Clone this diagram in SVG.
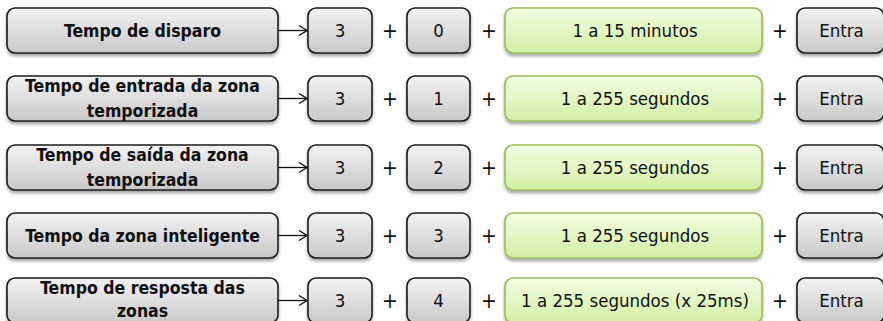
<svg xmlns="http://www.w3.org/2000/svg" width="883" height="321" viewBox="0 0 883 321">
<defs>
<linearGradient id="gGray" x1="0" y1="0" x2="0" y2="1"><stop offset="0" stop-color="#f2f2f2"/><stop offset="1" stop-color="#c9c9c9"/></linearGradient>
<linearGradient id="gGreen" x1="0" y1="0" x2="0" y2="1"><stop offset="0" stop-color="#f4fde4"/><stop offset="1" stop-color="#d2efa3"/></linearGradient>
<filter id="sh" x="-10%" y="-20%" width="120%" height="160%"><feDropShadow dx="0" dy="2.5" stdDeviation="1.6" flood-color="#000" flood-opacity="0.35"/></filter>
<marker id="ah" viewBox="0 0 10 12" refX="9" refY="6" markerWidth="10" markerHeight="12" markerUnits="userSpaceOnUse" orient="auto"><path d="M1,1 L9,6 L1,11" fill="none" stroke="#111" stroke-width="1.3"/></marker>
</defs>
<style>
text{font-family:"DejaVu Sans Condensed","DejaVu Sans",sans-serif;font-stretch:condensed;fill:#111;text-anchor:middle}
.gray{fill:url(#gGray);stroke:#1c1c1c;stroke-width:1.6;filter:url(#sh)}
.green{fill:url(#gGreen);stroke:#9bbb59;stroke-width:1.6;filter:url(#sh)}
.lbl{font-size:17.5px;font-weight:bold}
.val{font-size:18.5px}
.plus{font-size:21px}
.conn{stroke:#111;stroke-width:1.3;fill:none;marker-end:url(#ah)}
</style>
<g id="connectors">
<line class="conn" x1="278" y1="30.5" x2="307" y2="30.5"/>
<line class="conn" x1="278" y1="98.5" x2="307" y2="98.5"/>
<line class="conn" x1="278" y1="167.5" x2="307" y2="167.5"/>
<line class="conn" x1="278" y1="235.5" x2="307" y2="235.5"/>
<line class="conn" x1="278" y1="300.5" x2="307" y2="300.5"/>
</g>
<g id="row1">
<g id="n1-label"><rect class="gray" x="7" y="8" width="271" height="45" rx="8"/><text class="lbl" x="142.5" y="37">Tempo de disparo</text></g>
<g id="n1-a"><rect class="gray" x="308" y="8" width="64" height="45" rx="8"/><text class="val" x="340" y="37">3</text></g>
<text class="plus" x="390" y="38">+</text>
<g id="n1-b"><rect class="gray" x="407" y="8" width="63" height="45" rx="8"/><text class="val" x="438.5" y="37">0</text></g>
<text class="plus" x="489" y="38">+</text>
<g id="n1-c"><rect class="green" x="505" y="8" width="257" height="45" rx="8"/><text class="val" x="635" y="37">1 a 15 minutos</text></g>
<text class="plus" x="780" y="38">+</text>
<g id="n1-d"><rect class="gray" x="797" y="8" width="87" height="45" rx="8"/><text class="val" x="841.5" y="37">Entra</text></g>
</g>
<g id="row2">
<g id="n2-label"><rect class="gray" x="7" y="76" width="271" height="45" rx="8"/><text class="lbl" x="142.5" y="92">Tempo de entrada da zona</text><text class="lbl" x="142.5" y="117">temporizada</text></g>
<g id="n2-a"><rect class="gray" x="308" y="76" width="64" height="45" rx="8"/><text class="val" x="340" y="105">3</text></g>
<text class="plus" x="390" y="106">+</text>
<g id="n2-b"><rect class="gray" x="407" y="76" width="63" height="45" rx="8"/><text class="val" x="438.5" y="105">1</text></g>
<text class="plus" x="489" y="106">+</text>
<g id="n2-c"><rect class="green" x="505" y="76" width="257" height="45" rx="8"/><text class="val" x="635" y="105">1 a 255 segundos</text></g>
<text class="plus" x="780" y="106">+</text>
<g id="n2-d"><rect class="gray" x="797" y="76" width="87" height="45" rx="8"/><text class="val" x="841.5" y="105">Entra</text></g>
</g>
<g id="row3">
<g id="n3-label"><rect class="gray" x="7" y="145" width="271" height="45" rx="8"/><text class="lbl" x="142.5" y="161">Tempo de saída da zona</text><text class="lbl" x="142.5" y="186">temporizada</text></g>
<g id="n3-a"><rect class="gray" x="308" y="145" width="64" height="45" rx="8"/><text class="val" x="340" y="174">3</text></g>
<text class="plus" x="390" y="175">+</text>
<g id="n3-b"><rect class="gray" x="407" y="145" width="63" height="45" rx="8"/><text class="val" x="438.5" y="174">2</text></g>
<text class="plus" x="489" y="175">+</text>
<g id="n3-c"><rect class="green" x="505" y="145" width="257" height="45" rx="8"/><text class="val" x="635" y="174">1 a 255 segundos</text></g>
<text class="plus" x="780" y="175">+</text>
<g id="n3-d"><rect class="gray" x="797" y="145" width="87" height="45" rx="8"/><text class="val" x="841.5" y="174">Entra</text></g>
</g>
<g id="row4">
<g id="n4-label"><rect class="gray" x="7" y="213" width="271" height="45" rx="8"/><text class="lbl" x="142.5" y="242">Tempo da zona inteligente</text></g>
<g id="n4-a"><rect class="gray" x="308" y="213" width="64" height="45" rx="8"/><text class="val" x="340" y="242">3</text></g>
<text class="plus" x="390" y="243">+</text>
<g id="n4-b"><rect class="gray" x="407" y="213" width="63" height="45" rx="8"/><text class="val" x="438.5" y="242">3</text></g>
<text class="plus" x="489" y="243">+</text>
<g id="n4-c"><rect class="green" x="505" y="213" width="257" height="45" rx="8"/><text class="val" x="635" y="242">1 a 255 segundos</text></g>
<text class="plus" x="780" y="243">+</text>
<g id="n4-d"><rect class="gray" x="797" y="213" width="87" height="45" rx="8"/><text class="val" x="841.5" y="242">Entra</text></g>
</g>
<g id="row5">
<g id="n5-label"><rect class="gray" x="7" y="278" width="271" height="45" rx="8"/><text class="lbl" x="142.5" y="294">Tempo de resposta das</text><text class="lbl" x="142.5" y="316.5">zonas</text></g>
<g id="n5-a"><rect class="gray" x="308" y="278" width="64" height="45" rx="8"/><text class="val" x="340" y="307">3</text></g>
<text class="plus" x="390" y="308">+</text>
<g id="n5-b"><rect class="gray" x="407" y="278" width="63" height="45" rx="8"/><text class="val" x="438.5" y="307">4</text></g>
<text class="plus" x="489" y="308">+</text>
<g id="n5-c"><rect class="green" x="505" y="278" width="257" height="45" rx="8"/><text class="val" x="635" y="307">1 a 255 segundos (x 25ms)</text></g>
<text class="plus" x="780" y="308">+</text>
<g id="n5-d"><rect class="gray" x="797" y="278" width="87" height="45" rx="8"/><text class="val" x="841.5" y="307">Entra</text></g>
</g>
</svg>
